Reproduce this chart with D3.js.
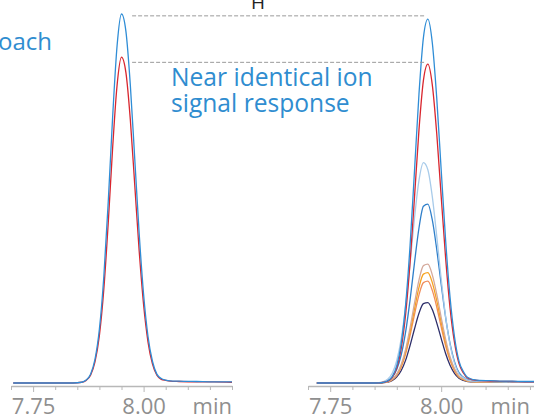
<!DOCTYPE html>
<html>
<head>
<meta charset="utf-8">
<script src="https://cdn.jsdelivr.net/npm/d3@7"></script>
<style>
  body { margin: 0; background: #fff; }
  svg { display: block; font-family: "Open Sans", sans-serif; }
</style>
</head>
<body>
<svg id="chart"></svg>
<script>
// retention time (min) of each sample, one array per panel
const leftTimes  = [7.705, 7.80, 7.84, 7.86, 7.87, 7.88, 7.89, 7.90, 7.91, 7.92, 7.93, 7.94, 7.95, 7.96, 7.97, 7.98, 7.99, 8.00, 8.01, 8.02, 8.03, 8.04, 8.05, 8.06, 8.08, 8.12, 8.16, 8.20]
const rightTimes = [7.72, 7.80, 7.84, 7.86, 7.87, 7.88, 7.89, 7.90, 7.91, 7.92, 7.93, 7.94, 7.95, 7.96, 7.97, 7.98, 7.99, 8.00, 8.01, 8.02, 8.03, 8.04, 8.05, 8.06, 8.08, 8.12, 8.16, 8.20, 8.21]

// relative intensity (%), left panel
const leftBlue = [0, 0, 0, 0.2, 0.8, 2.4, 6.4, 14.6, 28.8, 49.1, 72.2, 91.4, 100, 95.3, 80.7, 60.7, 40.5, 24.0, 12.6, 5.9, 2.4, 1.2, 0.8, 0.6, 0.5, 0.4, 0.3, 0.3]
const leftRed  = [0, 0, 0, 0.2, 0.7, 2.1, 5.7, 12.9, 25.4, 43.4, 63.8, 80.7, 88.3, 84.1, 71.3, 53.6, 35.8, 21.2, 11.1, 5.2, 2.1, 1.0, 0.7, 0.5, 0.4, 0.3, 0.3, 0.2]

// relative intensity (%), right panel
const rightBlue      = [0, 0, 0, 0.05, 0.2, 0.6, 1.8, 4.7, 10.7, 21.3, 37.4, 57.7, 78.3, 93.6, 98.6, 92.2, 77.2, 57.8, 38.7, 23.2, 12.5, 6.0, 3.1, 1.5, 0.8, 0.6, 0.5, 0.4, 0.4]
const rightRed       = [0, 0, 0, 0.04, 0.2, 0.5, 1.6, 4.1, 9.4, 18.7, 32.8, 50.5, 68.6, 82.0, 86.4, 80.8, 67.6, 50.6, 33.9, 20.3, 11.0, 5.3, 2.7, 1.3, 0.7, 0.5, 0.4, 0.3, 0.3]
const rightLightBlue = [0, 0, 0, 0.12, 0.39, 1.1, 2.7, 6.1, 12.0, 21.0, 32.5, 44.8, 54.9, 59.7, 57.8, 50.5, 39.8, 28.2, 18.0, 10.4, 5.4, 2.5, 1.5, 0.8, 0.5, 0.4, 0.3, 0.3, 0.3]
const rightMidBlue   = [0, 0, 0, 0.06, 0.2, 0.6, 1.6, 3.7, 7.6, 13.9, 22.6, 32.7, 42.0, 47.9, 48.5, 44.2, 36.2, 26.8, 17.8, 10.7, 5.8, 2.8, 1.6, 0.9, 0.5, 0.4, 0.3, 0.3, 0.3]
const rightTan       = [0, 0, 0, 0.04, 0.14, 0.4, 1.05, 2.4, 5.0, 9.2, 15.0, 21.7, 27.9, 31.8, 32.2, 29.3, 24.1, 17.8, 11.9, 7.1, 3.9, 1.9, 1.1, 0.6, 0.4, 0.3, 0.3, 0.2, 0.2]
const rightOrange    = [0, 0, 0, 0.04, 0.13, 0.37, 0.97, 2.3, 4.7, 8.5, 13.9, 20.1, 25.9, 29.5, 29.9, 27.2, 22.3, 16.5, 11.0, 6.6, 3.6, 1.7, 1.0, 0.5, 0.3, 0.3, 0.2, 0.2, 0.2]
const rightSalmon    = [0, 0, 0, 0.04, 0.12, 0.34, 0.9, 2.1, 4.3, 7.9, 12.9, 18.6, 23.9, 27.2, 27.6, 25.1, 20.6, 15.2, 10.1, 6.1, 3.3, 1.6, 0.9, 0.5, 0.3, 0.3, 0.2, 0.2, 0.2]
const rightNavy      = [0, 0, 0, 0.03, 0.09, 0.27, 0.71, 1.65, 3.4, 6.2, 10.2, 14.7, 18.9, 21.5, 21.8, 19.9, 16.3, 12.1, 8.0, 4.8, 2.6, 1.3, 0.7, 0.4, 0.3, 0.2, 0.2, 0.2, 0.2]

const majorTicks = [7.75, 8.00]
const minorTicks = [7.70, 7.80, 7.85, 7.90, 7.95, 8.05, 8.10, 8.15, 8.20]

// dashed guides: intensity levels and where they start / stop (min)
const guideLevels = [99.5, 86.9]
const guideStart = 7.974   // on left time axis
const guideEnd = 7.965     // on right time axis

const noteLines = ["Near identical ion", "signal response"]

const width = 534, height = 416
const baseY = 383, axisY = 386

const svg = d3.select("#chart")
  .attr("width", width)
  .attr("height", height)

const yScale = d3.scaleLinear()
  .domain([0, 100])
  .range([baseY, 14])

const xLeft = d3.scaleLinear()
  .domain([7.70, 8.20])
  .range([11, 232])

const xRight = d3.scaleLinear()
  .domain([7.70, 8.21])
  .range([308, 534.4])

function drawTrace(x, times, values, color) {
  const line = d3.line()
    .x((d, i) => x(times[i]))
    .y(d => yScale(d))
    .curve(d3.curveMonotoneX)
  svg.append("path")
    .attr("d", line(values))
    .attr("fill", "none")
    .attr("stroke", color)
    .attr("stroke-width", 1.3)
    .attr("stroke-linejoin", "round")
}

// left panel
drawTrace(xLeft, leftTimes, leftRed, "#d9262e")
drawTrace(xLeft, leftTimes, leftBlue, "#2f8dd6")

// right panel, smallest first
drawTrace(xRight, rightTimes, rightNavy, "#2d2e6a")
drawTrace(xRight, rightTimes, rightSalmon, "#f08d5c")
drawTrace(xRight, rightTimes, rightOrange, "#f7a21e")
drawTrace(xRight, rightTimes, rightTan, "#d4a99b")
drawTrace(xRight, rightTimes, rightMidBlue, "#2f7fca")
drawTrace(xRight, rightTimes, rightLightBlue, "#a8cbea")
drawTrace(xRight, rightTimes, rightRed, "#d9262e")
drawTrace(xRight, rightTimes, rightBlue, "#2f8dd6")

// dashed guides between the panels
svg.selectAll(".guide")
  .data(guideLevels)
  .join("line")
    .attr("class", "guide")
    .attr("x1", xLeft(guideStart))
    .attr("x2", xRight(guideEnd))
    .attr("y1", d => yScale(d))
    .attr("y2", d => yScale(d))
    .attr("stroke", "#9a9a9a")
    .attr("stroke-width", 1)
    .attr("stroke-dasharray", "4,2")

function drawAxis(x, unitAt) {
  const minor = svg.append("g")
    .attr("transform", `translate(0,${axisY})`)
    .call(d3.axisBottom(x).tickValues(minorTicks).tickSize(4).tickSizeOuter(0).tickFormat(""))
  minor.select(".domain").attr("stroke", "#b8b8b8").attr("stroke-width", 1.4)
  minor.selectAll(".tick line").attr("stroke", "#b8b8b8")

  const major = svg.append("g")
    .attr("transform", `translate(0,${axisY})`)
    .call(d3.axisBottom(x).tickValues(majorTicks).tickSize(6).tickFormat(d3.format(".2f")))
  major.select(".domain").remove()
  major.selectAll(".tick line").attr("stroke", "#b8b8b8")
  major.selectAll(".tick text")
    .attr("y", 12)
    .attr("fill", "#8f8f8f")
    .style("font-size", "22px")
    .style("font-family", "'Open Sans', sans-serif")

  svg.append("text")
    .attr("x", x(unitAt))
    .attr("y", axisY + 27.6)
    .attr("text-anchor", "end")
    .attr("fill", "#8f8f8f")
    .style("font-size", "22px")
    .text("min")
}

drawAxis(xLeft, 8.20)
drawAxis(xRight, 8.20)

// annotations
svg.append("text")
  .attr("x", 52)
  .attr("y", 50)
  .attr("text-anchor", "end")
  .attr("fill", "#2f8dd0")
  .style("font-size", "24px")
  .text("approach")

svg.selectAll(".note")
  .data(noteLines)
  .join("text")
    .attr("class", "note")
    .attr("x", 171)
    .attr("y", (d, i) => 86 + i * 26)
    .attr("fill", "#2f8dd0")
    .style("font-size", "24.6px")
    .text(d => d)

svg.append("text")
  .attr("x", 251)
  .attr("y", 9)
  .attr("fill", "#222")
  .style("font-size", "19px")
  .text("H")
</script>
</body>
</html>
